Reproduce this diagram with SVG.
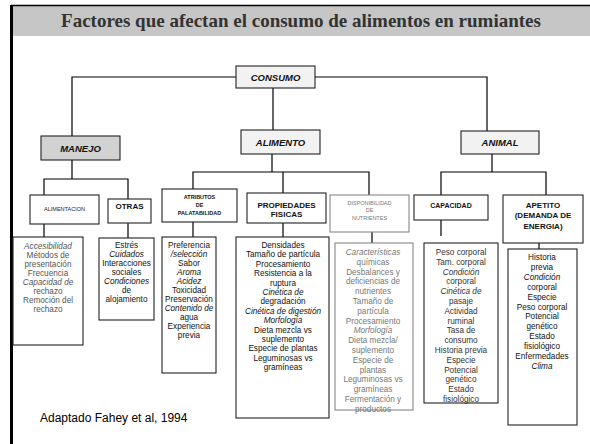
<svg xmlns="http://www.w3.org/2000/svg" width="590" height="444" viewBox="0 0 590 444">
<style>
.box{fill:#fff;stroke:#222;stroke-width:1.1}
.gbox{fill:#fff;stroke:#888;stroke-width:1.1}
.hd{fill:#f2f2f2;stroke:#222;stroke-width:1.1}
.hd2{fill:#d2d2d2;stroke:#222;stroke-width:1.1}
.c{fill:none;stroke:#000;stroke-width:1.2}
text{font-family:"Liberation Sans",Arial,sans-serif;text-anchor:middle}
.t1{font-size:9.5px;font-weight:bold;font-style:italic;fill:#111}
.t2{font-size:8px;font-weight:bold;fill:#111}
.sm{font-size:5.5px;font-weight:bold;fill:#111}
.smg{font-size:5.5px;fill:#777}
.li{font-size:8.2px;fill:#111}
.lg{font-size:8.2px;fill:#555}
.lg2{font-size:8.2px;fill:#777}
.it{font-style:italic}
</style>
<rect x="0" y="0" width="590" height="444" fill="#fff"/>
<g id="frame">
<rect x="12" y="6" width="578" height="30" fill="#c6c6c6"/>
<line x1="11" y1="5.5" x2="590" y2="5.5" stroke="#000" stroke-width="1.5"/>
<line x1="11.5" y1="5" x2="11.5" y2="444" stroke="#000" stroke-width="3"/>
<text x="301" y="27" style="font-family:'Liberation Serif','Times New Roman',serif;font-size:19px;font-weight:bold;fill:#333">Factores que afectan el consumo de alimentos en rumiantes</text>
</g>
<g id="connectors" class="c">
<path d="M72,136 V77 H487 V131"/>
<path d="M273,88 V130"/>
<path d="M72,160 V179 M44,195 V179 H128 V199"/>
<path d="M44,224 V237 M128,223 V238"/>
<path d="M272,154 V172 M193,189 V172 H369 V195 M283,172 V193"/>
<path d="M193,222 V237 M283,223 V237 M372,232 V243"/>
<path d="M492,154 V172 M441,195 V172 H546 V195"/>
<path d="M441,220 V236 M539,243 V249"/>
</g>
<g id="consumo"><rect class="hd" x="236" y="66" width="79" height="22"/><text class="t1" x="275.5" y="80.5">CONSUMO</text></g>
<g id="manejo"><rect class="hd2" x="41" y="136" width="79" height="24"/><text class="t1" x="80.5" y="151.5">MANEJO</text></g>
<g id="alimento"><rect class="hd" x="241" y="130" width="79" height="24"/><text class="t1" x="280.5" y="145.5">ALIMENTO</text></g>
<g id="animal"><rect class="hd" x="461" y="131" width="78" height="23"/><text class="t1" x="500" y="146">ANIMAL</text></g>
<g id="alimentacion"><rect class="box" x="30" y="195" width="69" height="29"/><text class="smg" x="64.5" y="211" style="fill:#222">ALIMENTACION</text></g>
<g id="otras"><rect class="box" x="108" y="199" width="43" height="24"/><text class="t2" x="129.5" y="209">OTRAS</text></g>
<g id="atributos"><rect class="box" x="162" y="189" width="75" height="33"/><text class="sm" x="199.5" y="199">ATRIBUTOS</text><text class="sm" x="199.5" y="207">DE</text><text class="sm" x="199.5" y="215">PALATABILIDAD</text></g>
<g id="propiedades"><rect class="box" x="247" y="193" width="79" height="30"/><text class="t2" x="286.5" y="208">PROPIEDADES</text><text class="t2" x="286.5" y="217">FISICAS</text></g>
<g id="disponibilidad"><rect class="gbox" x="330" y="195" width="79" height="37"/><text class="smg" x="369.5" y="205">DISPONIBILIDAD</text><text class="smg" x="369.5" y="212">DE</text><text class="smg" x="369.5" y="220">NUTRIENTES</text></g>
<g id="capacidad"><rect class="box" x="414" y="195" width="74" height="25"/><text class="t2" x="451" y="208" style="font-size:7px">CAPACIDAD</text></g>
<g id="apetito"><rect class="box" x="503" y="195" width="80" height="48"/><text class="t2" x="543" y="208">APETITO</text><text class="t2" x="543" y="218">(DEMANDA DE</text><text class="t2" x="543" y="229">ENERGIA)</text></g>
<g id="lista-alimentacion"><rect class="box" x="13" y="237" width="70" height="108"/>
<text class="lg" x="48"><tspan x="48" y="249" class="it">Accesibilidad</tspan><tspan x="48" y="258">Métodos de</tspan><tspan x="48" y="267">presentación</tspan><tspan x="48" y="276">Frecuencia</tspan><tspan x="48" y="285" class="it">Capacidad de</tspan><tspan x="48" y="294">rechazo</tspan><tspan x="48" y="303">Remoción del</tspan><tspan x="48" y="312">rechazo</tspan></text></g>
<g id="lista-otras"><rect class="box" x="99" y="238" width="55" height="82"/>
<text class="li" x="126.5"><tspan x="126.5" y="248">Estrés</tspan><tspan x="126.5" y="257" class="it">Cuidados</tspan><tspan x="126.5" y="266">Interacciones</tspan><tspan x="126.5" y="275">sociales</tspan><tspan x="126.5" y="284" class="it">Condiciones</tspan><tspan x="126.5" y="293">de</tspan><tspan x="126.5" y="302">alojamiento</tspan></text></g>
<g id="lista-atributos"><rect class="box" x="162" y="237" width="54" height="136"/>
<text class="li" x="189"><tspan x="189" y="248">Preferencia</tspan><tspan x="189" y="257" class="it">/selección</tspan><tspan x="189" y="266">Sabor</tspan><tspan x="189" y="275" class="it">Aroma</tspan><tspan x="189" y="284" class="it">Acidez</tspan><tspan x="189" y="293">Toxicidad</tspan><tspan x="189" y="302">Preservación</tspan><tspan x="189" y="311" class="it">Contenido de</tspan><tspan x="189" y="320">agua</tspan><tspan x="189" y="329">Experiencia</tspan><tspan x="189" y="338">previa</tspan></text></g>
<g id="lista-propiedades"><rect class="box" x="236" y="237" width="93" height="181"/>
<text class="li" x="283"><tspan x="283" y="248">Densidades</tspan><tspan x="283" y="257.4">Tamaño de partícula</tspan><tspan x="283" y="266.8">Procesamiento</tspan><tspan x="283" y="276.2">Resistencia a la</tspan><tspan x="283" y="285.6">ruptura</tspan><tspan x="283" y="295" class="it">Cinética de</tspan><tspan x="283" y="304.4">degradación</tspan><tspan x="283" y="313.8" class="it">Cinética de digestión</tspan><tspan x="283" y="323.2" class="it">Morfología</tspan><tspan x="283" y="332.6">Dieta mezcla vs</tspan><tspan x="283" y="342">suplemento</tspan><tspan x="283" y="351.4">Especie de plantas</tspan><tspan x="283" y="360.8">Leguminosas vs</tspan><tspan x="283" y="370.2">gramíneas</tspan></text></g>
<g id="lista-disponibilidad"><rect class="gbox" x="335" y="243" width="78" height="167"/>
<text class="lg2" x="373"><tspan x="373" y="255" class="it">Características</tspan><tspan x="373" y="264.8">químicas</tspan><tspan x="373" y="274.6">Desbalances y</tspan><tspan x="373" y="284.4">deficiencias de</tspan><tspan x="373" y="294.2">nutrientes</tspan><tspan x="373" y="304">Tamaño de</tspan><tspan x="373" y="313.8">partícula</tspan><tspan x="373" y="323.6">Procesamiento</tspan><tspan x="373" y="333.4" class="it">Morfología</tspan><tspan x="373" y="343.2">Dieta mezcla/</tspan><tspan x="373" y="353">suplemento</tspan><tspan x="373" y="362.8">Especie de</tspan><tspan x="373" y="372.6">plantas</tspan><tspan x="373" y="382.4">Leguminosas vs</tspan><tspan x="373" y="392.2">gramíneas</tspan><tspan x="373" y="402">Fermentación y</tspan><tspan x="373" y="411.8">productos</tspan></text></g>
<g id="lista-capacidad"><rect class="box" x="424" y="243" width="74" height="160"/>
<text class="lg" x="461" style="fill:#333"><tspan x="461" y="255">Peso corporal</tspan><tspan x="461" y="264.8">Tam. corporal</tspan><tspan x="461" y="274.6" class="it">Condición</tspan><tspan x="461" y="284.4">corporal</tspan><tspan x="461" y="294.2" class="it">Cinética de</tspan><tspan x="461" y="304">pasaje</tspan><tspan x="461" y="313.8">Actividad</tspan><tspan x="461" y="323.6">ruminal</tspan><tspan x="461" y="333.4">Tasa de</tspan><tspan x="461" y="343.2">consumo</tspan><tspan x="461" y="353">Historia previa</tspan><tspan x="461" y="362.8">Especie</tspan><tspan x="461" y="372.6">Potencial</tspan><tspan x="461" y="382.4">genético</tspan><tspan x="461" y="392.2">Estado</tspan><tspan x="461" y="402">fisiológico</tspan></text></g>
<g id="lista-apetito"><rect class="box" x="508" y="249" width="69" height="176"/>
<text class="li" x="542"><tspan x="542" y="260">Historia</tspan><tspan x="542" y="269.9">previa</tspan><tspan x="542" y="279.8" class="it">Condición</tspan><tspan x="542" y="289.7">corporal</tspan><tspan x="542" y="299.6">Especie</tspan><tspan x="542" y="309.5">Peso corporal</tspan><tspan x="542" y="319.4">Potencial</tspan><tspan x="542" y="329.3">genético</tspan><tspan x="542" y="339.2">Estado</tspan><tspan x="542" y="349.1">fisiológico</tspan><tspan x="542" y="359">Enfermedades</tspan><tspan x="542" y="368.9" class="it">Clima</tspan></text></g>
<g id="fuente"><text x="40" y="422" style="font-size:12px;text-anchor:start;fill:#000">Adaptado Fahey  et al, 1994</text></g>
</svg>
